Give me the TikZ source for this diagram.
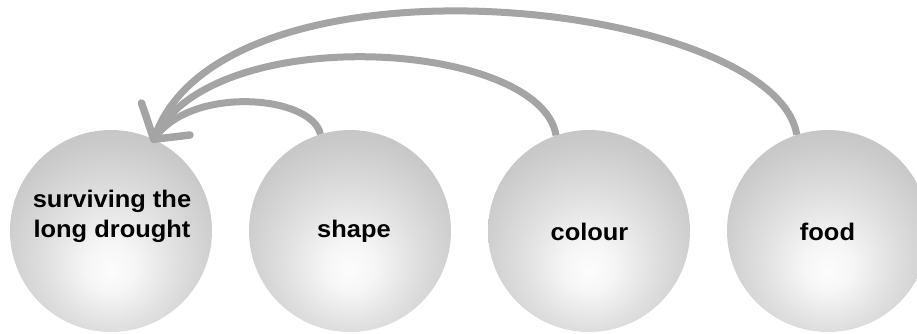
\documentclass[tikz,border=0pt]{standalone}
\usepackage{fontspec}
\newfontfamily\labfont[FakeStretch=1.06]{Liberation Sans}
\pgfdeclareradialshading{ballshade}{\pgfpoint{0bp}{-10bp}}{%
  rgb(0bp)=(0.99,0.99,0.99);
  rgb(6bp)=(0.965,0.965,0.965);
  rgb(16bp)=(0.88,0.88,0.88);
  rgb(28bp)=(0.79,0.79,0.79);
  rgb(40bp)=(0.735,0.735,0.735);
  rgb(52bp)=(0.715,0.715,0.715);
  rgb(64bp)=(0.71,0.71,0.71)}
\definecolor{arrowgray}{HTML}{A4A4A4}
\tikzset{
  ball/.style={circle, minimum size=202pt, inner sep=0pt, shading=ballshade},
  lab/.style={font=\labfont\bfseries\fontsize{24}{30}\selectfont, inner sep=0pt, anchor=base, align=center},
  link/.style={draw=arrowgray, line width=7pt},
  head/.style={draw=arrowgray, line width=7.5pt, line cap=round, line join=round},
}
\begin{document}
\begin{tikzpicture}[x=1pt, y=-1pt]
\useasboundingbox (0,0) rectangle (917,333);
\clip (0,0) rectangle (917,333);
\node[ball] (c1) at (111,231) {};
\node[ball] (c2) at (350,231) {};
\node[ball] (c3) at (589,231) {};
\node[ball] (c4) at (828,231) {};
\node[lab] (t1) at (112,237) {surviving the\\long drought};
\node[lab] (t2) at (354,237) {shape};
\node[lab] (t3) at (589.5,240.5) {colour};
\node[lab] (t4) at (827.5,240.5) {food};
\coordinate (tip) at (c1.65);
\coordinate (bl) at (141.5,103);
\coordinate (br) at (190,135);
\draw[link] (c2.107) .. controls (312,95) and (190,85) .. (tip);
\draw[link] (c3.109) .. controls (540,40) and (210,20) .. (tip);
\draw[link] (c4.108) .. controls (775,0) and (220,-60) .. (tip);
\draw[head] (bl) -- (tip) -- (br);
\end{tikzpicture}
\end{document}
